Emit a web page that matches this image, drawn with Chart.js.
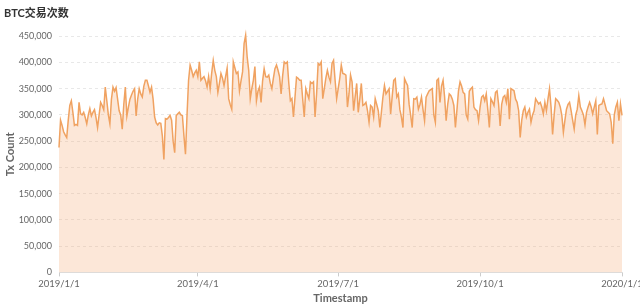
<!DOCTYPE html>
<html>
<head>
<meta charset="utf-8">
<script src="https://cdn.jsdelivr.net/npm/chart.js@4"></script>
<style>
  body { margin: 0; background: #fff; }
  #wrap { width: 640px; height: 307px; }
</style>
</head>
<body>
<div id="wrap"><canvas id="txChart"></canvas></div>
<script>
// daily tx counts, 2019-01-01 .. 2020-01-01
const jan = [238000,290000,280000,268000,262000,257000,290000,318000,327000,305000,280000,282000,280000,324000,302000,300000,305000,295000,283000,300000,312000,298000,305000,310000,295000,276000,300000,324000,318000,310000,353000];
const feb = [327000,300000,283000,330000,353000,345000,352000,330000,308000,300000,273000,320000,353000,298000,315000,330000,338000,345000,350000,298000,330000,350000,340000,334000,355000,366000,366000,355000];
const mar = [343000,353000,330000,296000,285000,281000,285000,284000,260000,215000,293000,292000,295000,299000,290000,250000,228000,299000,302000,305000,300000,299000,260000,225000,300000,366000,395000,385000,373000,380000,385000];
const apr = [373000,401000,366000,370000,373000,365000,353000,373000,350000,380000,404000,385000,373000,343000,360000,379000,370000,356000,373000,389000,331000,320000,311000,401000,390000,379000,382000,346000,365000,382000];
const may = [436000,452000,410000,385000,331000,350000,366000,392000,327000,345000,353000,324000,365000,388000,373000,372000,376000,360000,350000,370000,388000,395000,385000,373000,340000,375000,401000,398000,401000,360000,327000];
const jun = [331000,296000,334000,372000,370000,366000,366000,330000,296000,350000,340000,331000,363000,360000,363000,296000,340000,398000,395000,401000,331000,350000,370000,385000,372000,363000,398000,404000,366000,331000];
const jul = [350000,369000,395000,379000,378000,376000,315000,340000,376000,363000,308000,335000,360000,305000,330000,360000,318000,320000,324000,308000,286000,318000,315000,296000,331000,320000,308000,276000,305000,334000,356000];
const aug = [340000,345000,350000,302000,335000,366000,369000,334000,340000,310000,296000,276000,369000,362000,356000,320000,299000,276000,331000,330000,334000,311000,320000,334000,310000,289000,334000,340000,346000,348000,350000];
const sep = [300000,286000,366000,369000,324000,355000,366000,334000,289000,320000,340000,337000,330000,318000,276000,310000,346000,363000,355000,343000,340000,300000,292000,345000,350000,353000,315000,310000,308000,289000];
const oct = [315000,334000,337000,327000,340000,310000,276000,331000,325000,318000,343000,346000,320000,279000,320000,334000,337000,324000,350000,292000,350000,348000,346000,330000,324000,308000,257000,290000,308000,315000,296000];
const nov = [305000,311000,286000,300000,308000,331000,326000,321000,324000,315000,302000,324000,308000,330000,350000,315000,263000,300000,331000,328000,324000,315000,299000,267000,290000,311000,320000,324000,308000,290000];
const dec = [273000,300000,311000,337000,315000,308000,300000,281000,305000,315000,324000,315000,302000,315000,327000,263000,318000,320000,321000,331000,320000,308000,305000,302000,286000,245000,300000,315000,324000,289000,321000];
const jan2020 = [299000];

const txCounts = [].concat(jan, feb, mar, apr, may, jun, jul, aug, sep, oct, nov, dec, jan2020);

// x tick positions (day index) and their labels
const tickDays = [0, 90, 181, 273, 365];
const tickLabels = ['2019/1/1', '2019/4/1', '2019/7/1', '2019/10/1', '2020/1/1'];

const points = txCounts.map((v, i) => ({ x: i, y: v }));

const FONT = "Lato, 'Noto Sans CJK SC', sans-serif";

new Chart(document.getElementById('txChart'), {
  type: 'line',
  data: {
    datasets: [{
      label: 'Tx Count',
      data: points,
      borderColor: '#f0a261',
      backgroundColor: 'rgba(245, 168, 110, 0.27)',
      borderWidth: 1.5,
      pointRadius: 0,
      tension: 0,
      fill: 'origin',
      clip: false
    }]
  },
  options: {
    responsive: true,
    maintainAspectRatio: false,
    animation: false,
    layout: { padding: { left: 4, right: 0, top: 0, bottom: 2 } },
    plugins: {
      legend: { display: false },
      tooltip: { enabled: false },
      title: {
        display: true,
        text: 'BTC交易次数',
        align: 'start',
        color: '#333',
        font: { family: FONT, size: 11, weight: 'bold' },
        padding: { top: 7, bottom: 16 }
      }
    },
    scales: {
      x: {
        type: 'linear',
        min: 0,
        max: 365,
        afterBuildTicks: (axis) => { axis.ticks = tickDays.map(v => ({ value: v })); },
        afterFit: (axis) => { axis.paddingRight = 18; },
        ticks: {
          color: '#666',
          font: { family: FONT, size: 9.5 },
          padding: 2,
          maxRotation: 0,
          autoSkip: false,
          callback: (value) => tickLabels[tickDays.indexOf(value)]
        },
        grid: { color: 'transparent', tickColor: '#ccc', tickLength: 4 },
        border: { display: true, color: '#ddd' },
        title: {
          display: true,
          text: 'Timestamp',
          color: '#666',
          font: { family: FONT, size: 11, weight: 'bold' },
          padding: { top: 0, bottom: 0 }
        }
      },
      y: {
        min: 0,
        max: 450000,
        afterFit: (axis) => { axis.width = 55; },
        ticks: {
          stepSize: 50000,
          color: '#666',
          font: { family: FONT, size: 9 },
          padding: 7,
          callback: (value) => value.toLocaleString('en-US')
        },
        grid: { color: '#e8e8e8', drawTicks: false },
        border: { display: false, dash: [3, 3] },
        title: {
          display: true,
          text: 'Tx Count',
          color: '#666',
          font: { family: FONT, size: 11, weight: 'bold' },
          padding: { top: 0, bottom: 2 }
        }
      }
    }
  }
});
</script>
</body>
</html>
